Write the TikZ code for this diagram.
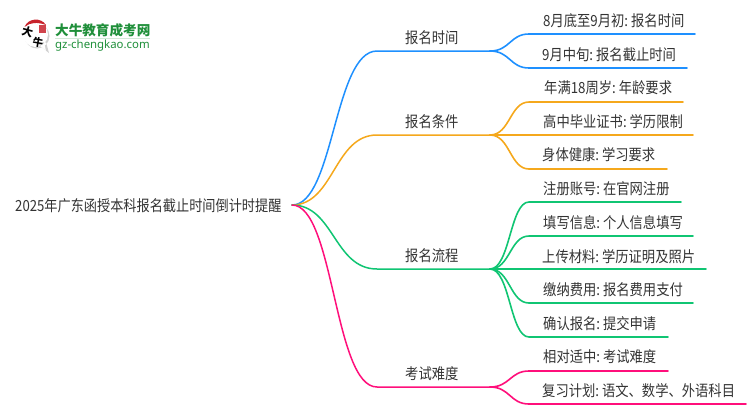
\documentclass[tikz,border=0pt]{standalone}
\usepackage{fontspec}
\setmainfont{Noto Sans CJK SC}
\newfontfamily\latinf{Noto Sans}
\definecolor{cblue}{HTML}{1E90FF}
\definecolor{corange}{HTML}{F5A81C}
\definecolor{cgreen}{HTML}{10C573}
\definecolor{cpink}{HTML}{FF0F7B}
\definecolor{ctext}{HTML}{333333}
\definecolor{logogreen}{HTML}{1F8F3A}
\definecolor{logored}{HTML}{C8232C}
\tikzset{
  lbl/.style={inner sep=0pt,anchor=west,text=ctext,yshift=-1pt,yscale=1.15,transform shape,
    font=\fontsize{13.3}{15}\selectfont,execute at begin node={\spaceskip 2pt\relax}},
  edge/.style={line width=1.6pt,line cap=round},
  rootedge/.style={edge,line width=1.5pt},
}
\begin{document}
\begin{tikzpicture}[x=1pt,y=-1pt]
\useasboundingbox (0,0) rectangle (750,410);
% logo
\fill[black!18] (37,36) circle (12.5) (40,46) -- (49,53) -- (46,42) -- cycle;
\fill[white] (35.5,34.5) circle (12.5) (38,44) -- (46,51) -- (44,42) -- cycle;
\fill[logored] (24.5,27) .. controls (28,18) and (41,17) .. (46,25) .. controls (38,22) and (30,22) .. (24.5,27) -- cycle;
\fill[logored!85] (38.5,25) rectangle (45.5,33);
\node[inner sep=0pt,font=\fontsize{11}{11}\bfseries\selectfont,rotate=-15] (logoa) at (27.5,32) {大};
\node[inner sep=0pt,font=\fontsize{10.5}{11}\bfseries\selectfont,rotate=-10] (logob) at (38,42.5) {牛};
\node[inner sep=0pt,anchor=west,text=logogreen,font=\fontsize{13.6}{14}\bfseries\selectfont] (logot) at (55,30) {大牛教育成考网};
\draw[logogreen!20,line width=0.8pt] (55,38.5) -- (150,38.5);
\node[inner sep=0pt,anchor=west,text=logogreen,font=\latinf\fontsize{11.4}{12}\selectfont] (logou) at (55,45.5) {gz-chengkao.com};
% root
\node[lbl,xscale=.99] (root) at (15,205) {2025年广东函授本科报名截止时间倒计时提醒};
\coordinate (r) at (292,205);
% branch labels and hubs
\node[lbl] (b1) at (405,37) {报名时间};
\node[lbl] (b2) at (405,121) {报名条件};
\node[lbl] (b3) at (405,255) {报名流程};
\node[lbl] (b4) at (405,373) {考试难度};
\foreach \n/\y in {1/51,2/135,3/269,4/387}{
  \coordinate (s\n) at (377,\y);
  \coordinate (h\n) at (490,\y);
}
\foreach \n/\c in {1/cblue,2/corange,3/cgreen,4/cpink}{
  \draw[rootedge,\c] (r) .. controls (334,205) and (334,0 |- s\n) .. (s\n) -- (h\n);
}
% leaves
\foreach \n/\h/\c/\y/\e/\tx/\ty/\t in {
 l1/h1/cblue/34/695/543/20/{8月底至9月初: 报名时间},
 l2/h1/cblue/68/687/542/54/{9月中旬: 报名截止时间},
 l3/h2/corange/102/683/544/87/{年满18周岁: 年龄要求},
 l4/h2/corange/135/693/543/121/{高中毕业证书: 学历限制},
 l5/h2/corange/169/667/542/154/{身体健康: 学习要求},
 l6/h3/cgreen/202/681/543/188/{注册账号: 在官网注册},
 l7/h3/cgreen/236/693/543/222/{填写信息: 个人信息填写},
 l8/h3/cgreen/269/706/542/256/{上传材料: 学历证明及照片},
 l9/h3/cgreen/303/693/543/289/{缴纳费用: 报名费用支付},
 l10/h3/cgreen/337/668/543/323/{确认报名: 提交申请},
 l11/h4/cpink/371/668/543/356/{相对适中: 考试难度},
 l12/h4/cpink/404/746/542/390/{复习计划: 语文、数学、外语科目}}{
  \node[lbl] (\n) at (\tx,\ty) {\t};
  \coordinate (\n s) at (529,\y);
  \coordinate (\n e) at (\e,\y);
  \draw[edge,\c] (\h) .. controls (510,0 |- \h) and (510,\y) .. (\n s) -- (\n e);
}
\end{tikzpicture}
\end{document}
